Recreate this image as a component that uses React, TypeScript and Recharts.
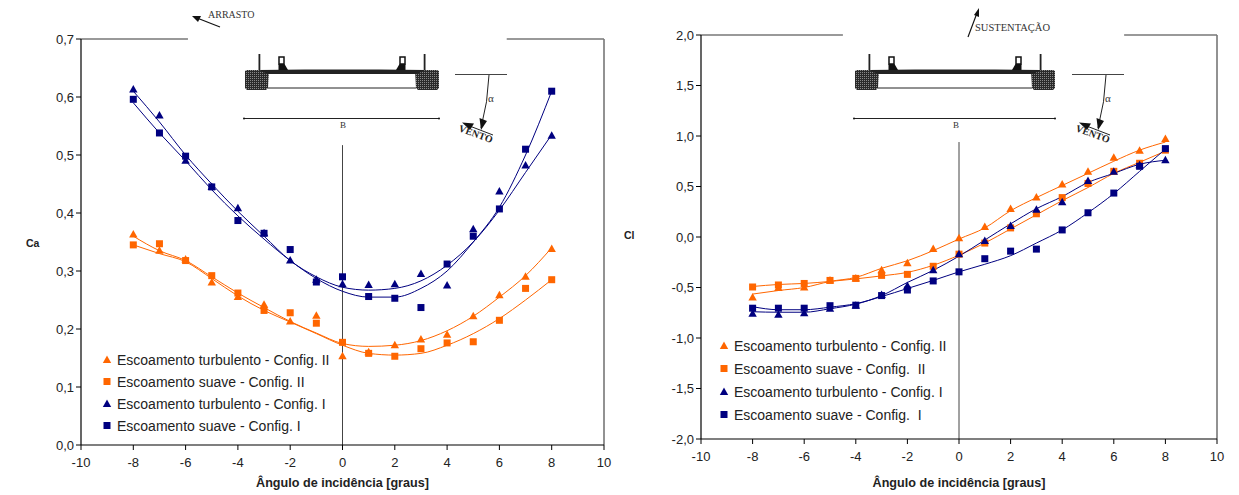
import React from "react";
import {
  Line,
  LineChart,
  ReferenceLine,
  XAxis,
  YAxis,
} from "recharts";

const angles = [-8, -7, -6, -5, -4, -3, -2, -1, 0, 1, 2, 3, 4, 5, 6, 7, 8];
const xTicks = [-10, -8, -6, -4, -2, 0, 2, 4, 6, 8, 10];
const caTicks = [0, 0.1, 0.2, 0.3, 0.4, 0.5, 0.6, 0.7];
const clTicks = [-2, -1.5, -1, -0.5, 0, 0.5, 1, 1.5, 2];

// arrasto (Ca) - measured points
const caTurbII = [0.363, 0.335, 0.32, 0.28, 0.255, 0.242, 0.213, 0.223, 0.153, 0.16, 0.172, 0.182, 0.19, 0.222, 0.258, 0.29, 0.338];
const caSuaveII = [0.345, 0.347, 0.318, 0.292, 0.262, 0.232, 0.228, 0.21, 0.177, 0.158, 0.153, 0.166, 0.176, 0.178, 0.215, 0.27, 0.285];
const caTurbI = [0.613, 0.568, 0.49, 0.445, 0.408, 0.365, 0.318, 0.285, 0.277, 0.276, 0.277, 0.295, 0.275, 0.372, 0.437, 0.482, 0.533];
const caSuaveI = [0.596, 0.538, 0.498, 0.445, 0.387, 0.365, 0.337, 0.281, 0.29, 0.256, 0.253, 0.237, 0.312, 0.36, 0.407, 0.51, 0.61];

// arrasto (Ca) - trend lines
const caTurbIIFit = [0.36, 0.335, 0.318, 0.29, 0.262, 0.237, 0.213, 0.193, 0.175, 0.17, 0.172, 0.18, 0.197, 0.222, 0.255, 0.292, 0.34];
const caSuaveIIFit = [0.345, 0.33, 0.316, 0.287, 0.257, 0.232, 0.212, 0.192, 0.172, 0.158, 0.155, 0.158, 0.172, 0.192, 0.218, 0.25, 0.285];
const caTurbIFit = [0.61, 0.557, 0.5, 0.45, 0.403, 0.36, 0.318, 0.29, 0.272, 0.267, 0.27, 0.283, 0.31, 0.35, 0.405, 0.47, 0.535];
const caSuaveIFit = [0.59, 0.538, 0.49, 0.44, 0.395, 0.355, 0.318, 0.287, 0.265, 0.255, 0.255, 0.27, 0.3, 0.35, 0.41, 0.5, 0.61];

// sustentacao (Cl) - measured points
const clTurbII = [-0.6, -0.505, -0.5, -0.43, -0.41, -0.33, -0.26, -0.12, -0.013, 0.1, 0.277, 0.39, 0.52, 0.645, 0.785, 0.855, 0.97];
const clSuaveII = [-0.495, -0.475, -0.46, -0.43, -0.41, -0.38, -0.37, -0.29, -0.17, -0.06, 0.09, 0.23, 0.39, 0.53, 0.65, 0.73, 0.86];
const clTurbI = [-0.76, -0.77, -0.755, -0.71, -0.68, -0.575, -0.485, -0.33, -0.17, -0.04, 0.11, 0.27, 0.345, 0.555, 0.645, 0.71, 0.76];
const clSuaveI = [-0.705, -0.705, -0.705, -0.68, -0.675, -0.58, -0.525, -0.435, -0.345, -0.215, -0.14, -0.12, 0.07, 0.24, 0.435, 0.7, 0.875];

// sustentacao (Cl) - trend lines
const clTurbIIFit = [-0.565, -0.53, -0.5, -0.44, -0.4, -0.31, -0.235, -0.135, -0.02, 0.09, 0.26, 0.39, 0.51, 0.63, 0.75, 0.86, 0.94];
const clSuaveIIFit = [-0.49, -0.47, -0.46, -0.44, -0.415, -0.385, -0.35, -0.28, -0.18, -0.06, 0.08, 0.22, 0.36, 0.49, 0.63, 0.74, 0.85];
const clTurbIFit = [-0.74, -0.745, -0.745, -0.71, -0.665, -0.58, -0.45, -0.33, -0.19, -0.03, 0.13, 0.28, 0.4, 0.54, 0.63, 0.72, 0.76];
const clSuaveIFit = [-0.69, -0.72, -0.72, -0.695, -0.66, -0.59, -0.51, -0.43, -0.345, -0.27, -0.185, -0.06, 0.07, 0.24, 0.43, 0.65, 0.87];

const ORANGE = "#ff6600";
const NAVY = "#000080";
const GREY = "#777777";
const SANS = "'Liberation Sans', Arial, sans-serif";
const SERIF = "'Liberation Serif', 'Times New Roman', serif";

const colors = [ORANGE, ORANGE, NAVY, NAVY];
const shapes = ["triangle", "square", "triangle", "square"];
const caLabels = [
  "Escoamento turbulento - Config. II",
  "Escoamento suave - Config. II",
  "Escoamento turbulento - Config. I",
  "Escoamento suave - Config. I",
];
const clLabels = [
  "Escoamento turbulento - Config. II",
  "Escoamento suave - Config.  II",
  "Escoamento turbulento - Config. I",
  "Escoamento suave - Config.  I",
];

const buildRows = (points: number[][], fits: number[][]) =>
  angles.map((x, i) => {
    const row: Record<string, number> = { x };
    points.forEach((p, s) => (row[`p${s}`] = p[i]));
    fits.forEach((f, s) => (row[`f${s}`] = f[i]));
    return row;
  });

const caRows = buildRows(
  [caTurbII, caSuaveII, caTurbI, caSuaveI],
  [caTurbIIFit, caSuaveIIFit, caTurbIFit, caSuaveIFit]
);
const clRows = buildRows(
  [clTurbII, clSuaveII, clTurbI, clSuaveI],
  [clTurbIIFit, clSuaveIIFit, clTurbIFit, clSuaveIFit]
);

const marker = (shape: string, color: string) => (props: any) => {
  const { cx, cy, index } = props;
  if (shape === "triangle") {
    return (
      <polygon
        key={index}
        points={`${cx},${cy - 4.5} ${cx + 4.2},${cy + 3} ${cx - 4.2},${cy + 3}`}
        fill={color}
      />
    );
  }
  return <rect key={index} x={cx - 3.5} y={cy - 3.5} width={7} height={7} fill={color} />;
};

const comma = (v: number) => v.toFixed(1).replace(".", ",");

interface PlotProps {
  rows: Record<string, number>[];
  width: number;
  left: number;
  plotLeft: number;
  marginTop: number;
  height: number;
  ticks: number[];
  domain: [number, number];
  label: string;
  labelX: number;
  labelY: number;
  gapFrom: number;
  gapTo: number;
  stemTop: number;
  legendLabels: string[];
  legendX: number;
  legendY: number;
  legendStep: number[];
}

const Plot = (props: PlotProps) => {
  const { rows, width, left, plotLeft, marginTop, height, ticks, domain, label, labelX, labelY } = props;
  const top = domain[1];
  return (
    <div style={{ position: "absolute", left, top: 0 }}>
      <LineChart
        width={width}
        height={height}
        data={rows}
        margin={{ top: marginTop, right: 16, left: 0, bottom: 0 }}
      >
        <XAxis
          dataKey="x"
          type="number"
          domain={[-10, 10]}
          ticks={xTicks}
          height={50}
          tickSize={5}
          tickMargin={8}
          interval={0}
          axisLine={{ stroke: "#000", strokeWidth: 1.2 }}
          tickLine={{ stroke: "#000" }}
          tick={{ fontFamily: SANS, fontSize: 13, fill: "#222" }}
        />
        <YAxis
          type="number"
          domain={domain}
          ticks={ticks}
          width={plotLeft}
          tickSize={5}
          tickMargin={2}
          interval={0}
          tickFormatter={comma}
          axisLine={{ stroke: "#000", strokeWidth: 1.2 }}
          tickLine={{ stroke: "#000" }}
          tick={{ fontFamily: SANS, fontSize: 13, fill: "#222" }}
        />
        <ReferenceLine
          segment={[{ x: -10, y: top }, { x: props.gapFrom, y: top }]}
          stroke={GREY}
          strokeWidth={1.6}
        />
        <ReferenceLine
          segment={[{ x: props.gapTo, y: top }, { x: 10, y: top }]}
          stroke={GREY}
          strokeWidth={1.6}
        />
        <ReferenceLine x={10} stroke={GREY} strokeWidth={1.6} />
        <ReferenceLine
          segment={[{ x: 0, y: domain[0] }, { x: 0, y: props.stemTop }]}
          stroke="#444"
          strokeWidth={1}
        />
        {colors.map((c, s) => (
          <Line
            key={`f${s}`}
            dataKey={`f${s}`}
            type="monotone"
            stroke={c}
            strokeWidth={1}
            dot={false}
            activeDot={false}
            isAnimationActive={false}
          />
        ))}
        {colors.map((c, s) => (
          <Line
            key={`p${s}`}
            dataKey={`p${s}`}
            stroke="none"
            dot={marker(shapes[s], c)}
            activeDot={false}
            isAnimationActive={false}
          />
        ))}
      </LineChart>
      <div
        style={{
          position: "absolute",
          left: plotLeft + (width - 16 - plotLeft) / 2 - 120,
          width: 240,
          textAlign: "center",
          top: 476,
          fontFamily: SANS,
          fontSize: 12.6,
          fontWeight: 700,
          color: "#222",
        }}
      >
        Ângulo de incidência [graus]
      </div>
      <div
        style={{
          position: "absolute",
          left: labelX,
          top: labelY,
          fontFamily: SANS,
          fontSize: 10.5,
          fontWeight: 700,
          color: "#222",
        }}
      >
        {label}
      </div>
      {props.legendLabels.map((text, s) => (
        <div
          key={text}
          style={{
            position: "absolute",
            left: props.legendX,
            top: props.legendY + props.legendStep[s],
            height: 16,
            lineHeight: "16px",
            whiteSpace: "pre",
            fontFamily: SANS,
            fontSize: 14,
            color: "#222",
          }}
        >
          <svg width={10} height={10} style={{ position: "absolute", left: -15, top: 3 }}>
            {shapes[s] === "triangle" ? (
              <polygon points="5,0.5 9.2,8 0.8,8" fill={colors[s]} />
            ) : (
              <rect x={1.5} y={1} width={7} height={7} fill={colors[s]} />
            )}
          </svg>
          {text}
        </div>
      ))}
    </div>
  );
};

// section of the deck with both edge blocks, fins and the B dimension line
const Deck = ({ x, w, hatch }: { x: number; w: number; hatch: string }) => {
  const r = x + w;
  return (
    <g>
      <polygon points={`${x},71 ${x + 2},70 ${x + 24},70 ${x + 23},88 ${x + 21},90 ${x + 2},90 ${x},88`} fill={`url(#${hatch})`} />
      <polygon points={`${r},71 ${r - 2},70 ${r - 24},70 ${r - 23},88 ${r - 21},90 ${r - 2},90 ${r},88`} fill={`url(#${hatch})`} />
      <polygon points={`${x + 14},70 ${x + 60},69.5 ${r - 60},69.5 ${r - 14},70 ${r - 22},74 ${x + 22},74`} fill="#222" />
      <line x1={x + 23} y1={88} x2={r - 23} y2={88} stroke="#222" />
      <rect x={x + 13.5} y={54} width={1.8} height={16} fill="#222" />
      <rect x={r - 15.3} y={54} width={1.8} height={16} fill="#222" />
      <rect x={x + 34} y={57} width={5} height={7} fill="none" stroke="#111" strokeWidth={1.5} />
      <rect x={r - 39} y={57} width={5} height={7} fill="none" stroke="#111" strokeWidth={1.5} />
      <polygon points={`${x + 33.5},64 ${x + 39.5},64 ${x + 43},70 ${x + 33.5},70`} fill="#111" />
      <polygon points={`${r - 33.5},64 ${r - 39.5},64 ${r - 43},70 ${r - 33.5},70`} fill="#111" />
      <line x1={x - 1} y1={118.5} x2={r} y2={118.5} stroke="#222" />
      <circle cx={x - 1} cy={118.5} r={1} fill="#111" />
      <circle cx={r} cy={118.5} r={1} fill="#111" />
      <text x={x + w / 2 + 1} y={128} fontFamily={SERIF} fontSize={9} textAnchor="middle" fill="#333">
        B
      </text>
    </g>
  );
};

// horizontal reference, alpha arrow and wind label
const Wind = ({ x }: { x: number }) => (
  <g>
    <line x1={x} y1={74.5} x2={x + 52} y2={74.5} stroke="#444" />
    <path d={`M${x + 34},75 Q${x + 33},102 ${x + 26},128`} fill="none" stroke="#222" />
    <polygon points={`${x + 26},130 ${x + 24.5},118 ${x + 32},121`} fill="#111" />
    <line x1={x + 12} y1={125} x2={x + 38} y2={135} stroke="#222" />
    <polygon points={`${x + 7},122.5 ${x + 19},123.5 ${x + 15},130`} fill="#111" />
    <text x={x + 33} y={102} fontFamily={SERIF} fontSize={11} fill="#333">
      α
    </text>
    <text
      x={x + 3}
      y={131}
      transform={`rotate(20 ${x + 3} 131)`}
      fontFamily={SERIF}
      fontSize={10}
      fontWeight={700}
      fill="#222"
    >
      VENTO
    </text>
  </g>
);

const Diagrams = () => (
  <svg width={1239} height={495} style={{ position: "absolute", left: 0, top: 0, pointerEvents: "none" }}>
    <defs>
      <pattern id="hatchA" width={2} height={2} patternUnits="userSpaceOnUse">
        <rect width={2} height={2} fill="#2a2a2a" />
        <rect width={1} height={1} fill="#888" />
      </pattern>
    </defs>
    <Deck x={245} w={194} hatch="hatchA" />
    <Wind x={455} />
    <Deck x={855} w={200} hatch="hatchA" />
    <Wind x={1072} />

    <line x1={220} y1={27} x2={197} y2={18} stroke="#111" strokeWidth={1.2} />
    <polygon points="192,16 201,16 198,22" fill="#111" />
    <text x={208} y={18} fontFamily={SERIF} fontSize={10} fill="#333">
      ARRASTO
    </text>

    <line x1={968} y1={37} x2={977} y2={13} stroke="#111" strokeWidth={1.2} />
    <polygon points="979,8 974,15 979,17" fill="#111" />
    <text x={975} y={31} fontFamily={SERIF} fontSize={10.5} fill="#333">
      SUSTENTAÇÃO
    </text>
  </svg>
);

export default function App() {
  return (
    <div style={{ position: "absolute", left: 0, top: 0, width: 1239, height: 495, background: "#fff", overflow: "hidden" }}>
      <Plot
        rows={caRows}
        width={620}
        left={0}
        plotLeft={81}
        marginTop={39}
        height={495}
        ticks={caTicks}
        domain={[0, 0.7]}
        label="Ca"
        labelX={26}
        labelY={237}
        gapFrom={-5.91}
        gapTo={6.28}
        stemTop={0.517}
        legendLabels={caLabels}
        legendX={117}
        legendY={352}
        legendStep={[0, 22, 44, 66]}
      />
      <Plot
        rows={clRows}
        width={614}
        left={619}
        plotLeft={82}
        marginTop={35}
        height={489}
        ticks={clTicks}
        domain={[-2, 2]}
        label="Cl"
        labelX={5}
        labelY={229}
        gapFrom={-4.5}
        gapTo={6.4}
        stemTop={0.94}
        legendLabels={clLabels}
        legendX={115}
        legendY={338}
        legendStep={[0, 23, 46, 69]}
      />
      <Diagrams />
    </div>
  );
}
